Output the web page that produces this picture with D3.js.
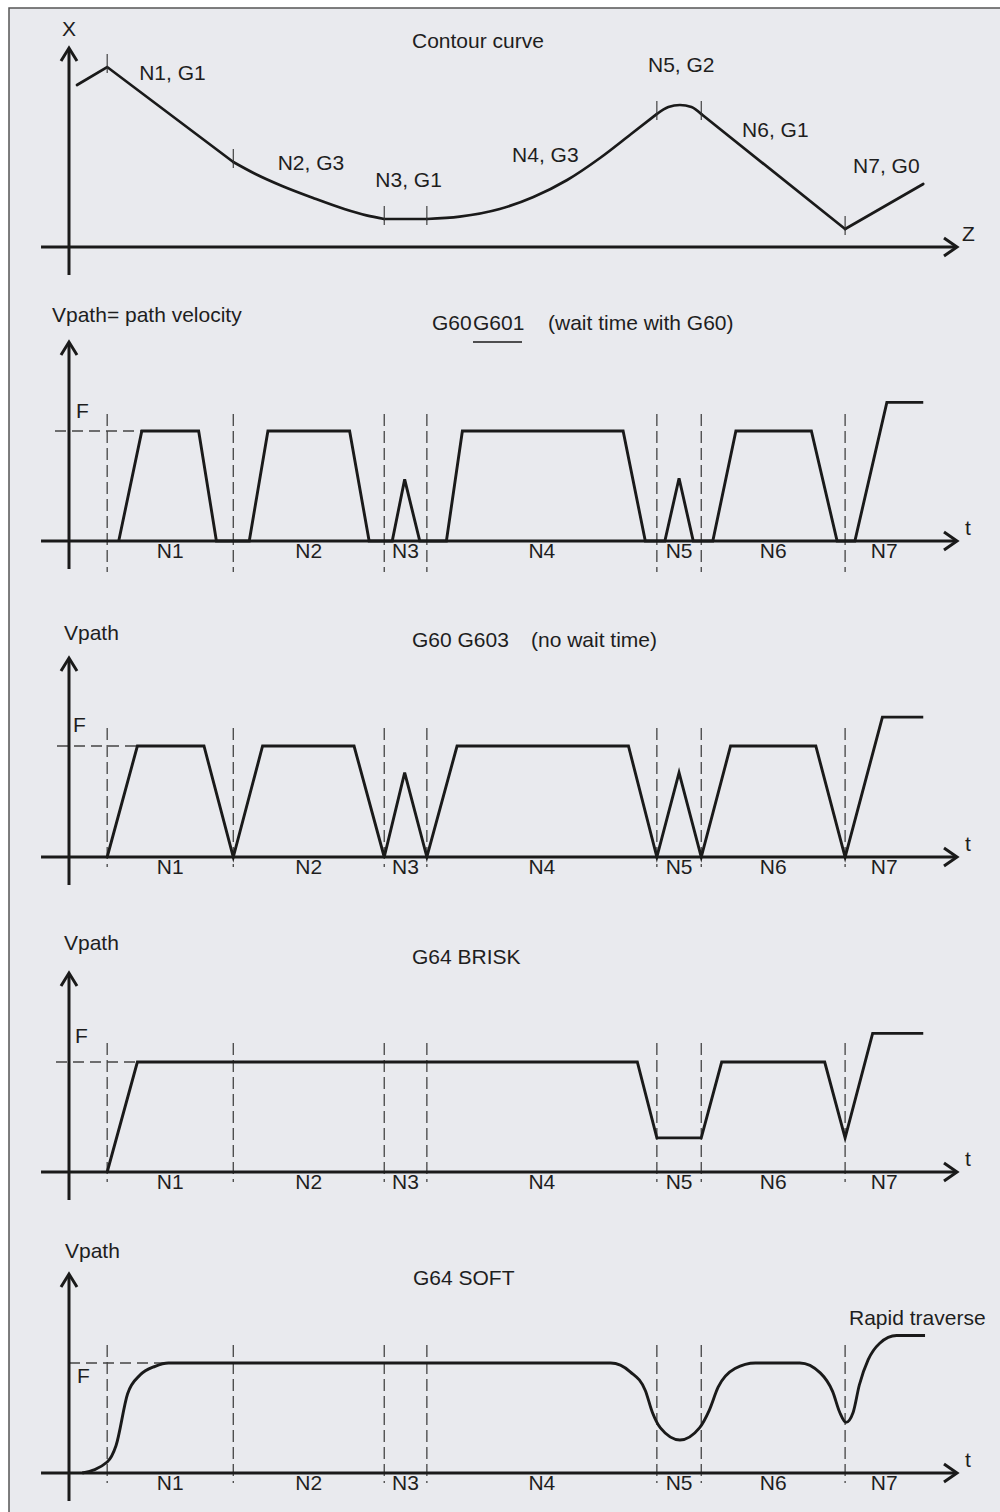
<!DOCTYPE html>
<html>
<head>
<meta charset="utf-8">
<script src="https://cdn.jsdelivr.net/npm/d3@7"></script>
<style>
body { margin: 0; background: #fff; }
svg text { font-family: "Liberation Sans", Arial, sans-serif; font-size: 21px; fill: #1e1e1e; }
</style>
</head>
<body>
<svg id="chart" width="1000" height="1512"></svg>
<script>
// blocks along the time / path axis (same for every panel)
var blocks = ["N1", "N2", "N3", "N4", "N5", "N6", "N7"];
var bounds = [4.3, 18.5, 35.5, 40.3, 66.2, 71.2, 87.4, 96.2]; // last one = end of N7

// contour curve, [t, X]
var contourN1 = [[0.9, 81], [4.3, 90], [18.5, 42.5]];
var contourN2 = [[18.5, 42.5], [21, 36.5], [24, 30.5], [27.5, 24.5], [31, 19], [33.5, 15.8], [35.5, 14]];
var contourN3 = [[35.5, 14], [40.3, 14]];
var contourN4 = [[40.3, 14], [44.0, 15.2], [48.5, 19], [52.3, 25], [56.1, 33.5], [59.8, 44.5], [63.3, 56.5], [66.2, 66.5]];
var contourN5 = [[66.2, 66.5], [67.5, 70], [68.8, 71], [70.1, 70], [71.2, 66.5]];
var contourN6 = [[71.2, 66.5], [87.4, 9]];
var contourN7 = [[87.4, 9], [96.2, 31.5]];
var contourAtBounds = [90, 42.5, 14, 14, 66.5, 66.5, 9];
var contourLabels = ["N1, G1", "N2, G3", "N3, G1", "N4, G3", "N5, G2", "N6, G1", "N7, G0"];
var contourLabelPos = [[7.9, 83.5], [23.5, 38.5], [34.5, 30], [49.9, 42.5], [65.2, 87.5], [75.8, 55], [88.3, 37]];

// path velocity profiles, [t, v/F]
var g601 = [[5.6, 0], [8.2, 1], [14.6, 1], [16.6, 0], [20.3, 0], [22.4, 1], [31.6, 1], [33.8, 0],
  [36.4, 0], [37.8, 0.56], [39.5, 0], [42.5, 0], [44.3, 1], [62.4, 1], [64.9, 0], [67.1, 0],
  [68.7, 0.57], [70.3, 0], [72.5, 0], [75.1, 1], [83.6, 1], [86.5, 0], [88.5, 0], [92.1, 1.26], [96.2, 1.26]];
var g603 = [[4.3, 0], [7.7, 1], [15.2, 1], [18.5, 0], [21.8, 1], [32.1, 1], [35.5, 0], [37.8, 0.76],
  [40.3, 0], [43.7, 1], [63.0, 1], [66.2, 0], [68.7, 0.76], [71.2, 0], [74.5, 1], [84.1, 1],
  [87.4, 0], [91.6, 1.26], [96.2, 1.26]];
var brisk = [[4.3, 0], [7.7, 1], [64.0, 1], [66.2, 0.31], [71.2, 0.31], [73.5, 1], [85.1, 1],
  [87.4, 0.31], [90.5, 1.26], [96.2, 1.26]];
var soft = [[1.5, 0], [4.3, 0.10], [5.3, 0.25], [6.6, 0.72], [8.0, 0.89], [9.7, 0.97], [11.2, 1],
  [61.0, 1], [63.2, 0.92], [64.9, 0.75], [65.7, 0.55], [66.6, 0.41], [68.8, 0.30], [71.0, 0.41],
  [72.1, 0.57], [73.1, 0.78], [75.0, 0.95], [77.3, 1], [82.3, 1], [84.6, 0.91], [86.0, 0.74],
  [86.8, 0.55], [87.5, 0.46], [88.3, 0.55], [89.0, 0.80], [90.0, 1.03], [91.3, 1.18], [93.2, 1.25], [96.4, 1.25]];

var ink = "#1a1a1a";
var svg = d3.select("#chart");

svg.append("rect")
  .attr("x", 9).attr("y", 8).attr("width", 1010).attr("height", 1520)
  .attr("fill", "#e9eaee").attr("stroke", "#555").attr("stroke-width", 1.5);

var x = d3.scaleLinear().domain([0, 100]).range([69, 957]);
var tStart = -3.15;

function axes(base) {
  var g = svg.append("g").attr("fill", "none").attr("stroke", ink).attr("stroke-width", 3);
  var top = base - 199, bot = base + 28, tip = x(100), y0 = x(0);
  g.append("line").attr("x1", x(tStart)).attr("x2", tip - 2).attr("y1", base).attr("y2", base);
  g.append("path").attr("d", "M" + (tip - 13) + "," + (base - 9) + "L" + tip + "," + base + "L" + (tip - 13) + "," + (base + 9));
  g.append("line").attr("x1", y0).attr("x2", y0).attr("y1", bot).attr("y2", top + 2);
  g.append("path").attr("d", "M" + (y0 - 8) + "," + (top + 13) + "L" + y0 + "," + top + "L" + (y0 + 8) + "," + (top + 13));
}

function text(str, px, py, anchor) {
  return svg.append("text").attr("x", px).attr("y", py)
    .attr("text-anchor", anchor || "start").text(str);
}

// ---- panel 1: contour curve
var yc = d3.scaleLinear().domain([0, 100]).range([247, 47]);
axes(247);
text("X", x(0), 36, "middle");
text("Z", 962, 241);
text("Contour curve", 412, 48);

var lineG1 = d3.line().x(function(d) { return x(d[0]); }).y(function(d) { return yc(d[1]); });
var lineArc = d3.line().curve(d3.curveMonotoneX)
  .x(function(d) { return x(d[0]); }).y(function(d) { return yc(d[1]); });

[[contourN1, lineG1], [contourN2, lineArc], [contourN3, lineG1], [contourN4, lineArc],
 [contourN5, lineArc], [contourN6, lineG1], [contourN7, lineG1]].forEach(function(s) {
  svg.append("path").attr("d", s[1](s[0]))
    .attr("fill", "none").attr("stroke", ink).attr("stroke-width", 2.7)
    .attr("stroke-linejoin", "miter").attr("stroke-linecap", "round");
});

svg.append("g").selectAll("line").data(bounds.slice(0, 7)).enter().append("line")
  .attr("x1", function(d) { return x(d); }).attr("x2", function(d) { return x(d); })
  .attr("y1", function(d, i) { return yc(contourAtBounds[i]) - 13; })
  .attr("y2", function(d, i) { return yc(contourAtBounds[i]) + 6; })
  .attr("stroke", "#333").attr("stroke-width", 1.1);

contourLabels.forEach(function(l, i) {
  text(l, x(contourLabelPos[i][0]), yc(contourLabelPos[i][1]));
});

// ---- velocity panels
var panels = [
  {data: g601, base: 541, fy: 431, dashTop: 414, dashBot: 572, fx0: 55, fLab: [76, 418], smooth: false},
  {data: g603, base: 857, fy: 746, dashTop: 728, dashBot: 867, fx0: 57, fLab: [73, 732], smooth: false},
  {data: brisk, base: 1172, fy: 1062, dashTop: 1043, dashBot: 1182, fx0: 56, fLab: [75, 1043], smooth: false},
  {data: soft, base: 1473, fy: 1363, dashTop: 1345, dashBot: 1483, fx0: 69, fLab: [77, 1383], smooth: true}
];

panels.forEach(function(p) {
  var y = d3.scaleLinear().domain([0, 1]).range([p.base, p.fy]);

  // F reference line
  svg.append("line").attr("x1", p.fx0).attr("x2", x(14.6)).attr("y1", y(1)).attr("y2", y(1))
    .attr("stroke", "#444").attr("stroke-width", 1.3).attr("stroke-dasharray", "11,6");
  // block boundaries
  svg.append("g").selectAll("line").data(bounds.slice(0, 7)).enter().append("line")
    .attr("x1", function(d) { return x(d); }).attr("x2", function(d) { return x(d); })
    .attr("y1", p.dashTop).attr("y2", p.dashBot)
    .attr("stroke", "#444").attr("stroke-width", 1.3).attr("stroke-dasharray", "12,5");

  axes(p.base);

  var line = d3.line().x(function(d) { return x(d[0]); }).y(function(d) { return y(d[1]); })
    .curve(p.smooth ? d3.curveMonotoneX : d3.curveLinear);
  svg.append("path").attr("d", line(p.data))
    .attr("fill", "none").attr("stroke", ink).attr("stroke-width", 2.9).attr("stroke-linejoin", "miter");

  text("F", p.fLab[0], p.fLab[1]);
  text("t", 965, p.base - 6);
  blocks.forEach(function(b, i) {
    text(b, x((bounds[i] + bounds[i + 1]) / 2), p.base + 17, "middle");
  });
});

// titles
text("Vpath= path velocity", 52, 322);
text("G60", 432, 330);
text("G601", 473, 330);
svg.append("line").attr("x1", 473).attr("x2", 522).attr("y1", 342).attr("y2", 342)
  .attr("stroke", ink).attr("stroke-width", 1.3);
text("(wait time with G60)", 548, 330);

text("Vpath", 64, 640);
text("G60 G603", 412, 647);
text("(no wait time)", 531, 647);

text("Vpath", 64, 950);
text("G64 BRISK", 412, 964);

text("Vpath", 65, 1258);
text("G64 SOFT", 413, 1285);
text("Rapid traverse", 849, 1325);
</script>
</body>
</html>
